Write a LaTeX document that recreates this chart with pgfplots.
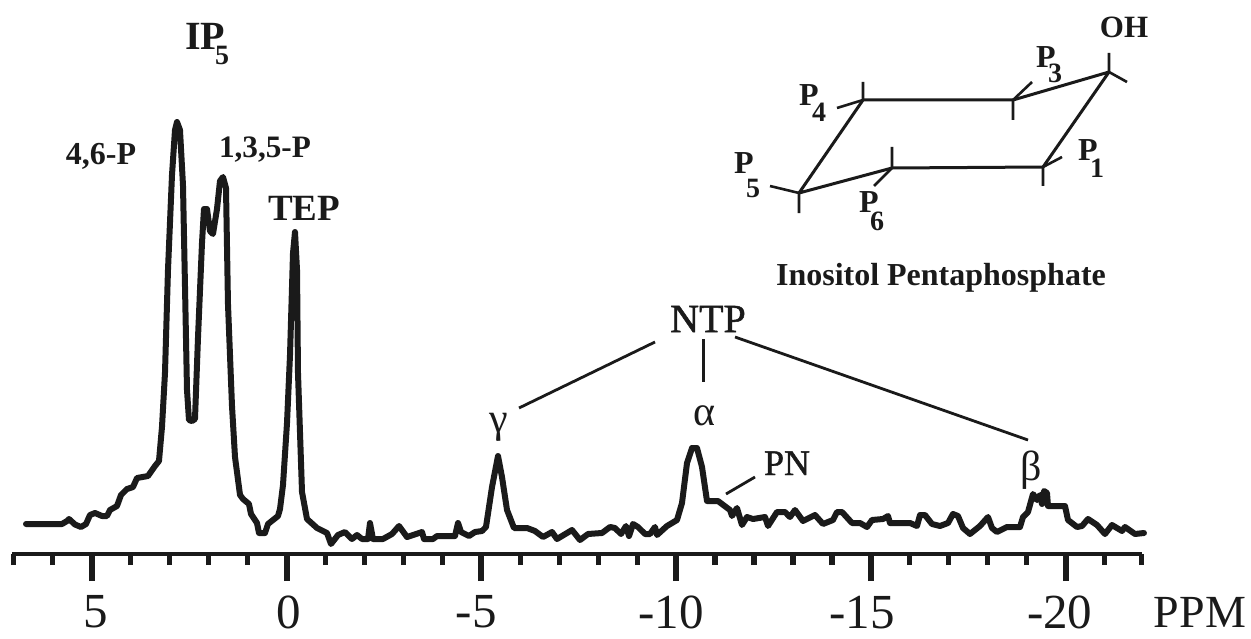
\documentclass[border=0pt]{standalone}
\usepackage{fontspec}
\setmainfont{Liberation Serif}
\newfontfamily\semibf[FakeBold=1.3]{Liberation Serif}
\usepackage{pgfplots}
\pgfplotsset{compat=1.18}
\usepackage{pgfplotstable}
\pgfplotstableread{
ppm int
6.686 29
5.762 29
5.634 32
5.583 34
5.429 28.5
5.275 26
5.146 29
5.044 38
4.915 40
4.735 37
4.607 37
4.530 43
4.351 47
4.248 58
4.094 64
3.940 66
3.837 75
3.555 77
3.375 87
3.273 92
3.196 126
3.119 180
3.042 283
2.939 378
2.862 423
2.811 431
2.734 423
2.657 368
2.605 266
2.554 163
2.503 133
2.426 132
2.349 134
2.272 215
2.169 310
2.118 344
2.041 344
1.964 322
1.887 319
1.784 344
1.707 372
1.630 376
1.553 365
1.502 249
1.399 147
1.322 96
1.193 58
1.116 54
0.963 49
0.911 39
0.757 30
0.706 20
0.552 20
0.475 29
0.218 37
0.167 44
0.090 68
-0.013 130
-0.090 198
-0.167 300
-0.218 321
-0.270 283
-0.295 180
-0.398 61
-0.526 34
-0.783 25
-1.040 20
-1.142 9
-1.322 18
-1.501 21
-1.681 14
-1.810 18
-1.938 14
-2.092 14
-2.143 30
-2.220 14
-2.477 14
-2.708 19
-2.888 27
-3.093 16
-3.478 21
-3.529 14
-3.760 14
-3.863 17
-4.325 17
-4.402 30
-4.479 21
-4.684 17
-4.838 21
-5.018 22
-5.120 26
-5.275 66
-5.429 97
-5.531 76
-5.660 43
-5.839 25
-6.173 25
-6.378 22
-6.584 16
-6.815 21
-6.943 14
-7.328 23
-7.533 13
-7.739 19
-8.098 20
-8.303 26
-8.431 25
-8.586 19
-8.714 27
-8.791 17
-8.894 29
-9.022 26
-9.202 19
-9.330 19
-9.458 26
-9.510 18
-9.766 27
-10.023 33
-10.151 50
-10.280 90
-10.408 105
-10.536 105
-10.665 86
-10.793 52
-11.075 52
-11.383 43
-11.435 37
-11.563 45
-11.691 28
-11.820 36
-11.974 34
-12.282 36
-12.359 27
-12.590 41
-12.795 41
-12.923 36
-13.052 43
-13.257 32
-13.565 38
-13.771 29
-14.027 33
-14.130 41
-14.258 41
-14.515 30
-14.720 30
-14.900 26
-15.028 33
-15.310 34
-15.439 37
-15.490 30
-16.003 30
-16.183 27
-16.260 38
-16.388 38
-16.568 29
-16.773 27
-16.979 30
-17.107 39
-17.235 37
-17.364 25
-17.543 19
-17.800 27
-18.005 36
-18.108 25
-18.236 21
-18.493 26
-18.827 26
-18.904 36
-19.032 41
-19.160 59
-19.263 53
-19.340 58
-19.391 49
-19.443 62
-19.520 60
-19.545 47
-19.982 47
-20.059 33
-20.290 26
-20.418 27
-20.572 34
-20.803 28
-21.008 19
-21.188 28
-21.445 22
-21.522 26
-21.779 19
-22.009 20
}\spectrum
\definecolor{ink}{HTML}{1A1A1A}
\newcommand{\bfn}[1]{\fontsize{#1}{#1}\selectfont\bfseries}
\newcommand{\rgn}[1]{\fontsize{#1}{#1}\selectfont}
\newcommand{\smb}[1]{\fontsize{#1}{#1}\selectfont\semibf}
\begin{document}
\begin{tikzpicture}
\begin{axis}[
  anchor=south west, at={(0,0)}, scale only axis,
  width=565pt, height=277pt,
  x dir=reverse, xmin=-21.958, xmax=7.046, ymin=-1, ymax=553,
  axis y line=none, axis x line=bottom,
  x axis line style={-, line width=2pt, color=ink},
  clip=false,
  xtick={5,0,-5,-10,-15,-20},
  xticklabels={\hspace*{4pt}5,\hspace*{2pt}0,-5\hspace*{5pt},-10\hspace*{5pt},-15\hspace*{9pt},-20\hspace*{6pt}},
  minor xtick={7,6,4,3,2,1,-1,-2,-3,-4,-6,-7,-8,-9,-11,-12,-13,-14,-16,-17,-18,-19,-21,-21.95},
  tick align=outside,
  major tick length=13.5pt, minor tick length=5.5pt,
  major tick style={line width=3pt, color=ink},
  minor tick style={line width=2.6pt, color=ink},
  xticklabel style={font=\fontsize{24.5}{27}\selectfont, text=ink, inner sep=0pt, outer sep=0pt, yshift=-7.4pt},
]
\addplot[color=ink, line width=3pt, line join=round, line cap=round] table[x=ppm,y=int] {\spectrum};
\end{axis}
\begin{scope}[shift={(-6pt,277pt)}, x=.5pt, y=-.5pt, color=ink, text=ink, every node/.style={inner sep=0pt}]
\path (0,0) rectangle (1251,638);
\node[font=\bfn{20}] at (205,36) {IP};
\node[font=\bfn{14}] at (222,55) {5};
\node[font=\bfn{16},anchor=base] at (101,165) {4,6-P};
\node[font=\bfn{15.6},anchor=base] at (265,158) {1,3,5-P};
\node[font=\bfn{18.5},anchor=base] at (304,220) {TEP};
\node[font=\smb{20}] at (708,319) {NTP};
\node[font=\rgn{21}] at (499,427) {γ};
\node[font=\rgn{21}] at (704,416) {α};
\node[font=\rgn{21}] at (1031,470) {β};
\node[font=\smb{18},anchor=base] at (787,475) {PN};
\node[font=\rgn{23},anchor=base] at (1200,627) {PPM};
\draw[line width=1.4pt] (655,342)--(519,408);
\draw[line width=1.5pt] (703,339)--(703,382);
\draw[line width=1.4pt] (735,337)--(1028,440);
\draw[line width=1.4pt] (726,494)--(755,477);
\draw[line width=1.5pt, line join=round] (799,193)--(863,100)--(1013,100)--(1109,72)--(1043,167)--(892,168)--(799,193);
\draw[line width=1.3pt] (863,100)--(863,82) (863,100)--(837,108)
 (1013,100)--(1013,120) (1013,100)--(1032,82)
 (1109,72)--(1109,53) (1109,72)--(1127,82)
 (1043,167)--(1043,186) (1043,167)--(1062,157)
 (892,168)--(892,147) (892,168)--(874,186)
 (799,193)--(799,213) (799,193)--(770,186);
\node[font=\bfn{15.5},anchor=base] at (1124,38) {OH};
\node[font=\bfn{16}] at (1046,57) {P};
\node[font=\bfn{14}] at (1055,73) {3};
\node[font=\bfn{16}] at (809,95) {P};
\node[font=\bfn{14}] at (819,112) {4};
\node[font=\bfn{16}] at (744,163) {P};
\node[font=\bfn{14}] at (753,188) {5};
\node[font=\bfn{16}] at (869,202) {P};
\node[font=\bfn{14}] at (877,221) {6};
\node[font=\bfn{16}] at (1088,150) {P};
\node[font=\bfn{14}] at (1097,168) {1};
\node[font=\bfn{16},anchor=base] at (941,285) {Inositol Pentaphosphate};
\end{scope}
\end{tikzpicture}
\end{document}
